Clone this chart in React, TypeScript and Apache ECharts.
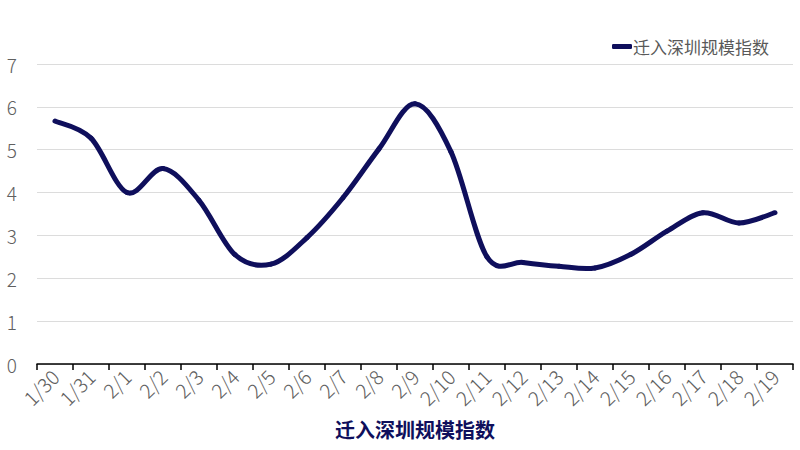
import React, { useEffect, useRef } from "react";
import * as echarts from "echarts";

const categories = ["1/30", "1/31", "2/1", "2/2", "2/3", "2/4", "2/5", "2/6", "2/7", "2/8", "2/9", "2/10", "2/11", "2/12", "2/13", "2/14", "2/15", "2/16", "2/17", "2/18", "2/19"];
const values = [5.67, 5.27, 4.0, 4.56, 3.82, 2.55, 2.33, 2.95, 3.88, 5.02, 6.07, 4.95, 2.5, 2.37, 2.28, 2.24, 2.56, 3.1, 3.53, 3.29, 3.53];
const seriesName = "迁入深圳规模指数";
const axisTitle = "迁入深圳规模指数";

const FONT = "'Noto Sans CJK SC', 'Noto Sans', sans-serif";
const NAVY = "#0f0f5c";

export default function App() {
  const ref = useRef<HTMLDivElement>(null);
  useEffect(() => {
    if (!ref.current) return;
    const chart = echarts.init(ref.current, undefined, { renderer: "svg" });
    const n = values.length;
    const renderItem = (params: any, api: any) => {
      const i = params.dataIndex;
      if (i >= n - 1) return { type: "group", children: [] };
      const c = (k: number) => {
        const kk = Math.max(0, Math.min(n - 1, k));
        return api.coord([kk, values[kk]]);
      };
      const p0 = c(i - 1);
      const p1 = c(i);
      const p2 = c(i + 1);
      const p3 = c(i + 2);
      const t = 1 / 6;
      return {
        type: "bezierCurve",
        shape: {
          x1: p1[0],
          y1: p1[1],
          x2: p2[0],
          y2: p2[1],
          cpx1: p1[0] + (p2[0] - p0[0]) * t,
          cpy1: p1[1] + (p2[1] - p0[1]) * t,
          cpx2: p2[0] - (p3[0] - p1[0]) * t,
          cpy2: p2[1] - (p3[1] - p1[1]) * t,
        },
        style: { fill: "none", stroke: NAVY, lineWidth: 5, lineCap: "round", lineJoin: "round" },
      };
    };
    chart.setOption({
      animation: false,
      backgroundColor: "#ffffff",
      textStyle: { fontFamily: FONT },
      legend: {
        data: [{ name: seriesName, icon: "roundRect" }],
        right: 26,
        top: 33,
        itemWidth: 20,
        itemHeight: 5,
        itemGap: 2,
        textStyle: { color: "#595959", fontSize: 17, fontFamily: FONT, padding: [0, 0, 0, -4] },
      },
      grid: { left: 37, right: 7, top: 64, bottom: 86, containLabel: false },
      xAxis: {
        type: "category",
        data: categories,
        boundaryGap: true,
        name: axisTitle,
        nameLocation: "middle",
        nameGap: 55,
        nameTextStyle: { color: NAVY, fontSize: 20, fontWeight: "bold", fontFamily: FONT },
        axisLine: { lineStyle: { color: "#000000", width: 1.5 } },
        axisTick: { show: true, length: 6, lineStyle: { color: "#000000", width: 1.5 } },
        axisLabel: { rotate: 45, color: "#606060", fontSize: 20, margin: 9, fontFamily: FONT, fontWeight: 300, interval: 0 },
      },
      yAxis: {
        type: "value",
        min: 0,
        max: 7,
        interval: 1,
        axisLine: { show: false },
        axisTick: { show: false },
        axisLabel: { color: "#606060", fontSize: 19, margin: 20, fontFamily: FONT, fontWeight: 300 },
        splitLine: { lineStyle: { color: "#dcdcdc", width: 1 } },
      },
      series: [
        {
          name: seriesName,
          type: "custom",
          renderItem,
          data: values.map((v, i) => [i, v]),
          encode: { x: 0, y: 1 },
          itemStyle: { color: NAVY },
        },
      ],
    });
    return () => chart.dispose();
  }, []);
  return <div ref={ref} style={{ width: 800, height: 450, position: "absolute", left: 0, top: 0 }} />;
}
